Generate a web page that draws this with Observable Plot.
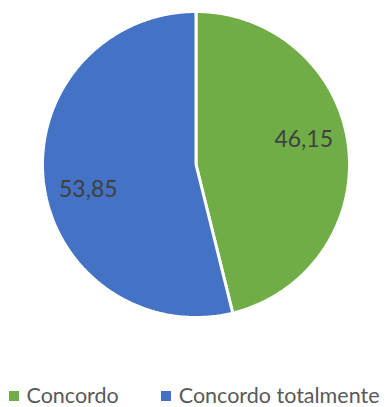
<!DOCTYPE html>
<html><head><meta charset="utf-8">
<script src="https://cdn.jsdelivr.net/npm/d3@7"></script>
<script src="https://cdn.jsdelivr.net/npm/@observablehq/plot@0.6"></script>
<style>
body{margin:0;background:#fff;width:388px;height:407px;overflow:hidden;font-family:Lato,"Open Sans",sans-serif;}
#legend{display:flex;justify-content:center;gap:42px;font-size:21.5px;color:#595959;line-height:22px;padding-top:12px;white-space:nowrap;}
#legend span.sw{display:inline-block;width:10px;height:10px;margin-right:8px;vertical-align:middle;position:relative;top:-2px;}
</style>
</head><body>
<div id="chart"></div>
<div id="legend"></div>
<script>
const categories = ["Concordo", "Concordo totalmente"];
const values = [46.15, 53.85];
const labels = ["46,15", "53,85"];
const colors = ["#70AD47", "#4472C4"];

const total = d3.sum(values);
const slices = [];
const labelRows = [];
let start = 0;
categories.forEach((cat, i) => {
  const a0 = start, a1 = start + values[i] / total * 2 * Math.PI;
  slices.push({cat, x: 0, y: 0});
  const n = Math.max(2, Math.ceil((a1 - a0) / (Math.PI / 360)));
  for (let k = 0; k <= n; k++) {
    const a = a0 + (a1 - a0) * k / n;
    slices.push({cat, x: Math.sin(a), y: Math.cos(a)});
  }
  slices.push({cat, x: 0, y: 0});
  const mid = (a0 + a1) / 2 - 6 * Math.PI / 180;
  labelRows.push({cat, label: labels[i], x: 0.72 * Math.sin(mid), y: 0.72 * Math.cos(mid)});
  start = a1;
});

const chart = Plot.plot({
  width: 388,
  height: 372,
  marginLeft: 42,
  marginRight: 39,
  marginTop: 11,
  marginBottom: 55,
  x: {domain: [-1, 1], axis: null},
  y: {domain: [-1, 1], axis: null},
  color: {domain: categories, range: colors},
  style: {fontFamily: "Lato, 'Open Sans', sans-serif", background: "white"},
  marks: [
    Plot.line(slices, {x: "x", y: "y", z: "cat", fill: "cat", stroke: "white", strokeWidth: 3, curve: "linear-closed", strokeLinejoin: "miter"}),
    Plot.text(labelRows, {x: "x", y: "y", text: "label", fontSize: 23, fill: "#404040"})
  ]
});
document.getElementById("chart").appendChild(chart);

const legend = document.getElementById("legend");
categories.forEach((c, i) => {
  const item = document.createElement("div");
  const sw = document.createElement("span");
  sw.className = "sw";
  sw.style.background = colors[i];
  item.appendChild(sw);
  item.appendChild(document.createTextNode(c));
  legend.appendChild(item);
});
</script>
</body></html>
